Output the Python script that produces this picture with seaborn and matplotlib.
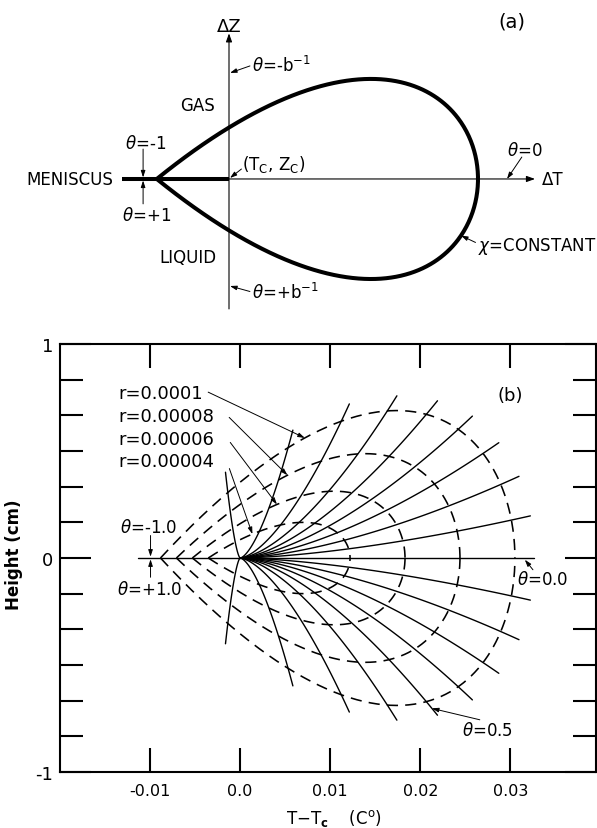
import numpy as np
import pandas as pd
import matplotlib
matplotlib.use("Agg")
import matplotlib.pyplot as plt
import seaborn as sns

sns.set_style("white")
plt.rcParams["font.family"] = ["DejaVu Sans"]
plt.rcParams["mathtext.fontset"] = "dejavusans"
plt.rcParams["text.color"] = "black"
plt.rcParams["axes.labelcolor"] = "black"
plt.rcParams["xtick.color"] = "black"
plt.rcParams["ytick.color"] = "black"

# ---- linear parametric model constants ----
B_SQ = 1.29          # b^2
BETA_DELTA = 1.55    # exponent of r in the height (chemical potential) scale
R_REF = 1e-4
T_SCALE = 305.0      # C° per unit r
Z_SCALE = 1.79       # cm, height amplitude at r = R_REF

# ---- panel (b) data ----
r_levels = [0.0001, 0.00008, 0.00006, 0.00004]
r_labels = ["r=0.0001", "r=0.00008", "r=0.00006", "r=0.00004"]
r_label_y = [0.77, 0.662, 0.554, 0.451]
r_arrow_theta = [-0.77, -0.78, -0.776, -0.83]

theta_lines = [-0.9, -0.8, -0.7, -0.6, -0.5, -0.4, -0.3, -0.2, -0.1, 0.0,
               0.1, 0.2, 0.3, 0.4, 0.5, 0.6, 0.7, 0.8, 0.9, 1.0]
theta_line_end = [1.19, 1.10, 1.08, 1.065, 1.06, 1.065, 1.065, 1.07, 1.07, 1.07,
                  1.07, 1.07, 1.065, 1.065, 1.06, 1.065, 1.08, 1.10, 1.19, 1.28]

x_ticks = [-0.01, 0.0, 0.01, 0.02, 0.03]
x_tick_labels = ["-0.01", "0.0", "0.01", "0.02", "0.03"]
y_ticks = [-1, 0, 1]
y_tick_labels = ["-1", "0", "1"]
y_minor_ticks = [k / 6 for k in (-5, -4, -3, -2, -1, 1, 2, 3, 4, 5)]

# ---- panel (a) schematic: one contour of constant r ----
A_RADIUS = 1.0
A_HEIGHT = 1.044
MENISCUS_END = -0.43


def delta_t(r, th):
    return T_SCALE * r * (1.0 - B_SQ * th ** 2)


def height(r, th):
    return -Z_SCALE * (r / R_REF) ** BETA_DELTA * th * (1.0 - th ** 2)


fig = plt.figure(figsize=(5.97, 8.29), dpi=100)

# ====================== panel (a) ======================
ax_a = fig.add_axes([0.0, 0.602, 1.0, 0.398])
ax_a.set_xlim(-229 / 249, 368 / 249)
ax_a.set_ylim(-150 / 249, 180 / 249)
ax_a.axis("off")

th_a = np.linspace(-1, 1, 401)
loop = pd.DataFrame({
    "dT": A_RADIUS * (1 - B_SQ * th_a ** 2),
    "dZ": -A_HEIGHT * th_a * (1 - th_a ** 2),
})
sns.lineplot(data=loop, x="dT", y="dZ", sort=False, estimator=None,
             color="black", lw=2.9, ax=ax_a, legend=False)
ax_a.plot([MENISCUS_END, 0], [0, 0], color="black", lw=2.9, solid_capstyle="butt")

axis_arrow = dict(arrowstyle="-|>,head_length=0.5,head_width=0.18", lw=0.8,
                  color="black", shrinkA=0, shrinkB=0)
ax_a.annotate("", xy=(0, 0.585), xytext=(0, -0.522), arrowprops=axis_arrow)
ax_a.annotate("", xy=(1.229, 0), xytext=(0, 0), arrowprops=axis_arrow)

small_arrow = dict(arrowstyle="-|>,head_length=0.4,head_width=0.13", lw=0.7,
                   color="black", shrinkA=0, shrinkB=0)

ax_a.text(0, 0.614, "ΔZ", ha="center", va="center", fontsize=13)
ax_a.text(1.137, 0.635, "(a)", ha="center", va="center", fontsize=14)
ax_a.text(0.092, 0.458, r"$\theta$=-b$^{-1}$", ha="left", va="center", fontsize=12)
ax_a.annotate("", xy=(0.004, 0.426), xytext=(0.084, 0.454), arrowprops=small_arrow)
ax_a.text(-0.1245, 0.297, "GAS", ha="center", va="center", fontsize=12)
ax_a.text(-0.333, 0.145, r"$\theta$=-1", ha="center", va="center", fontsize=12)
ax_a.text(-0.333, -0.145, r"$\theta$=+1", ha="center", va="center", fontsize=12)
ax_a.annotate("", xy=(-0.345, 0.006), xytext=(-0.345, 0.12), arrowprops=small_arrow)
ax_a.annotate("", xy=(-0.345, -0.006), xytext=(-0.345, -0.10), arrowprops=small_arrow)
ax_a.text(-0.6386, 0, "MENISCUS", ha="center", va="center", fontsize=12)
ax_a.text(0.0522, 0.064, r"(T$_\mathrm{C}$, Z$_\mathrm{C}$)", ha="left", va="center",
          fontsize=12)
ax_a.annotate("", xy=(0.004, 0.004), xytext=(0.05, 0.04), arrowprops=small_arrow)
ax_a.text(-0.165, -0.313, "LIQUID", ha="center", va="center", fontsize=12)
ax_a.text(0.092, -0.454, r"$\theta$=+b$^{-1}$", ha="left", va="center", fontsize=12)
ax_a.annotate("", xy=(0.004, -0.43), xytext=(0.084, -0.452), arrowprops=small_arrow)
ax_a.text(1.189, 0.1165, r"$\theta$=0", ha="center", va="center", fontsize=12)
ax_a.annotate("", xy=(1.1165, 0.0), xytext=(1.176, 0.088), arrowprops=small_arrow)
ax_a.text(1.257, 0, "ΔT", ha="left", va="center", fontsize=12)
th_c = 0.23
ax_a.text(1.0, -0.269, r"$\chi$=CONSTANT", ha="left", va="center", fontsize=12)
ax_a.annotate("", xy=(A_RADIUS * (1 - B_SQ * th_c ** 2),
                      -A_HEIGHT * th_c * (1 - th_c ** 2)),
              xytext=(0.99, -0.255), arrowprops=small_arrow)

# ====================== panel (b) ======================
ax = fig.add_axes([60 / 597, 56 / 829, 536 / 597, 428 / 829])
ax.set_xlim(-0.02, 0.0395)
ax.set_ylim(-1, 1)

# lines of constant theta, radiating from the critical point
rows = []
for th, r_end in zip(theta_lines, theta_line_end):
    rr = np.linspace(0, r_end * R_REF, 60)
    for r in rr:
        rows.append({"theta": th, "T": delta_t(r, th), "Z": height(r, th)})
rays = pd.DataFrame(rows)
sns.lineplot(data=rays, x="T", y="Z", units="theta", estimator=None, sort=False,
             color="black", lw=1.0, ax=ax, legend=False)

# dashed contours of constant r, each half drawn from the meniscus end
rows = []
for r in r_levels:
    for side, th_range in (("gas", np.linspace(-1, 0, 200)), ("liquid", np.linspace(1, 0, 200))):
        for th in th_range:
            rows.append({"curve": f"{r}-{side}", "T": delta_t(r, th), "Z": height(r, th)})
contours = pd.DataFrame(rows)
sns.lineplot(data=contours, x="T", y="Z", units="curve", estimator=None, sort=False,
             color="black", lw=1.15, linestyle=(0, (7, 4.5)), ax=ax, legend=False)

# axes, ticks, labels
for sp in ax.spines.values():
    sp.set_linewidth(1.5)
    sp.set_color("black")
ax.set_xticks(x_ticks)
ax.set_xticklabels(x_tick_labels)
ax.set_yticks(y_ticks)
ax.set_yticklabels(y_tick_labels)
ax.set_yticks(y_minor_ticks, minor=True)
ax.tick_params(axis="x", which="major", direction="in", length=17, width=1.5,
               top=True, bottom=True, labelsize=11.5, pad=8)
ax.tick_params(axis="y", which="major", direction="in", length=22, width=1.5,
               left=True, right=True, labelsize=13, pad=5)
ax.tick_params(axis="y", which="minor", direction="in", length=16.5, width=1.5,
               left=True, right=True)
ax.set_xlabel(r"T$-$T$_\mathbf{c}$    (C$^\mathrm{o}$)", fontsize=12)
ax.xaxis.set_label_coords(0.511, -0.082)
ax.set_ylabel("Height (cm)", fontsize=12, fontweight="bold")
ax.yaxis.set_label_coords(-0.069, 0.51)

# annotations
ax.text(0.0300, 0.76, "(b)", ha="center", va="center", fontsize=13)
label_starts = [(-0.00355, 0.775), (-0.00122, 0.657), (-0.0011, 0.540), (-0.0012, 0.418)]
for r, lab, ly, th, start in zip(r_levels, r_labels, r_label_y, r_arrow_theta, label_starts):
    ax.text(-0.0135, ly, lab, ha="left", va="center", fontsize=13)
    ax.annotate("", xy=(delta_t(r, th), height(r, th)), xytext=start,
                arrowprops=small_arrow)

ax.text(-0.0101, 0.145, r"$\theta$=-1.0", ha="center", va="center", fontsize=12)
ax.text(-0.0101, -0.145, r"$\theta$=+1.0", ha="center", va="center", fontsize=12)
ax.annotate("", xy=(-0.00995, 0.006), xytext=(-0.00995, 0.105), arrowprops=small_arrow)
ax.annotate("", xy=(-0.00995, -0.006), xytext=(-0.00995, -0.09), arrowprops=small_arrow)

ax.text(0.0336, -0.10, r"$\theta$=0.0", ha="center", va="center", fontsize=12)
ax.annotate("", xy=(0.0316, -0.008), xytext=(0.0325, -0.055), arrowprops=small_arrow)

ax.text(0.0275, -0.805, r"$\theta$=0.5", ha="center", va="center", fontsize=12)
ax.annotate("", xy=(delta_t(1.03 * R_REF, 0.5), height(1.03 * R_REF, 0.5)),
            xytext=(0.0266, -0.756), arrowprops=small_arrow)

fig.savefig("out.png", dpi=100)
